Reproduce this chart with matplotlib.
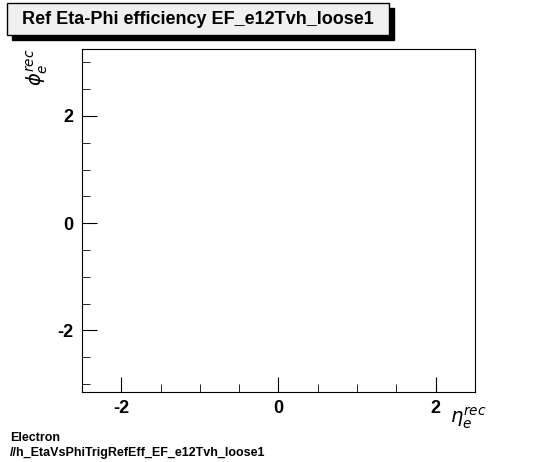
import matplotlib
matplotlib.use('Agg')
import matplotlib.pyplot as plt
from matplotlib.ticker import MultipleLocator
from matplotlib.patches import Rectangle

plt.rcParams['font.family'] = ['Liberation Sans', 'DejaVu Sans']

title = 'Ref Eta-Phi efficiency EF_e12Tvh_loose1'
x_range = [-2.5, 2.5]
y_range = [-3.15, 3.25]
x_ticks = [-2, 0, 2]
y_ticks = [-2, 0, 2]
footer = ['Electron', '//h_EtaVsPhiTrigRefEff_EF_e12Tvh_loose1']

fig = plt.figure(figsize=(5.46, 4.62), dpi=100)
ax = fig.add_axes([0.150, 0.1515, 0.720, 0.7425])
ax.set_xlim(x_range)
ax.set_ylim(y_range)
ax.set_xticks(x_ticks)
ax.set_yticks(y_ticks)
ax.set_xticklabels([str(v) for v in x_ticks], fontsize=13, fontweight='bold')
ax.set_yticklabels([str(v) for v in y_ticks], fontsize=13, fontweight='bold')
ax.xaxis.set_minor_locator(MultipleLocator(0.5))
ax.yaxis.set_minor_locator(MultipleLocator(0.5))
ax.tick_params(which='both', direction='in', top=False, right=False)
ax.tick_params(which='major', length=11, pad=6)
ax.tick_params(which='minor', length=6)

fig.text(0.825, 0.085, r'$\eta_e^{rec}$', fontsize=14, ha='left')
fig.text(0.045, 0.83, r'$\phi_e^{rec}$', fontsize=14, rotation=90, ha='left')

# title box with shadow
fig.patches.append(Rectangle((12/546, 1 - 40/462), 382/546, 32/462, transform=fig.transFigure,
                             facecolor='black', edgecolor='black'))
fig.patches.append(Rectangle((7/546, 1 - 35/462), 382/546, 32/462, transform=fig.transFigure,
                             facecolor='#f0f0f0', edgecolor='black', lw=1))
fig.text(198/546, 1 - 19/462, title, fontsize=13, fontweight='bold', ha='center', va='center')

fig.text(10/546, 1 - 438/462, footer[0], fontsize=9, fontweight='bold', va='center')
fig.text(10/546, 1 - 453/462, footer[1], fontsize=9, fontweight='bold', va='center')

fig.savefig('out.png', dpi=100)
